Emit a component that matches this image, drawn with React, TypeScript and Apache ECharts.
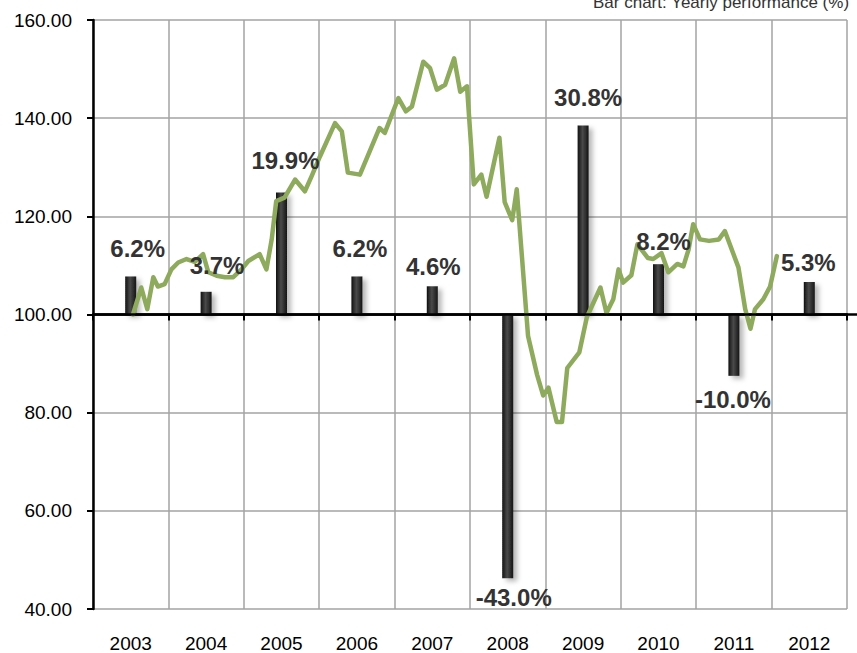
import React, { useEffect, useRef } from "react";
import * as echarts from "echarts";

const years = ["2003", "2004", "2005", "2006", "2007", "2008", "2009", "2010", "2011", "2012"];
const yearlyPct = [6.2, 3.7, 19.9, 6.2, 4.6, -43.0, 30.8, 8.2, -10.0, 5.3];
const yearlyLabels = ["6.2%", "3.7%", "19.9%", "6.2%", "4.6%", "-43.0%", "30.8%", "8.2%", "-10.0%", "5.3%"];

const yMin = 40;
const yMax = 160;
const yStep = 20;

// index line (time in fractional years, value)
const lineX = [
  2003.53, 2003.64, 2003.72, 2003.8, 2003.86, 2003.95, 2004.04, 2004.13, 2004.24, 2004.35,
  2004.46, 2004.53, 2004.64, 2004.75, 2004.86, 2004.97, 2005.06, 2005.21, 2005.3, 2005.37,
  2005.43, 2005.54, 2005.68, 2005.81, 2005.9, 2006.01, 2006.21, 2006.3, 2006.38, 2006.54,
  2006.8, 2006.87, 2007.05, 2007.15, 2007.23, 2007.38, 2007.47, 2007.56, 2007.67, 2007.79,
  2007.87, 2007.96, 2008.05, 2008.15, 2008.22, 2008.39, 2008.46, 2008.56, 2008.62, 2008.77,
  2008.89, 2008.97, 2009.04, 2009.15, 2009.22, 2009.29, 2009.45, 2009.55, 2009.73, 2009.81,
  2009.9, 2009.97, 2010.03, 2010.14, 2010.22, 2010.36, 2010.43, 2010.54, 2010.63, 2010.75,
  2010.83, 2010.9, 2010.96, 2011.05, 2011.17, 2011.3, 2011.38, 2011.56, 2011.65, 2011.72,
  2011.78, 2011.89, 2011.98, 2012.07,
];
const lineY = [
  100.0, 105.5, 101.1, 107.6, 105.7, 106.2, 109.2, 110.6, 111.3, 110.7,
  112.3, 108.6, 107.9, 107.6, 107.6, 109.2, 110.9, 112.3, 109.2, 115.3,
  123.1, 123.8, 127.5, 125.1, 128.2, 132.2, 139.0, 137.3, 128.9, 128.5,
  138.0, 137.0, 144.1, 141.4, 142.4, 151.5, 150.2, 145.8, 146.8, 152.2,
  145.4, 146.5, 126.5, 128.5, 124.0, 136.0, 122.9, 119.2, 125.5, 95.6,
  87.7, 83.5, 85.1, 78.1, 78.1, 89.1, 92.3, 99.5, 105.5, 100.3,
  103.1, 109.2, 106.5, 108.0, 114.3, 111.5, 111.3, 112.5, 108.6, 110.3,
  109.8, 113.3, 118.4, 115.3, 115.0, 115.3, 117.0, 109.6, 101.1, 97.1,
  101.1, 103.1, 105.7, 111.9,
];

// label nudges [dx, dy] in px (styling only)
const labelNudges = [
  [7, -4], [11, -2], [4, -8], [3, -4], [1, 4], [6, -5], [5, -4], [5, 1], [-1, 0], [-1, 5],
];

export default function App() {
  const ref = useRef<HTMLDivElement>(null);

  useEffect(() => {
    if (!ref.current) return;
    const chart = echarts.init(ref.current, null, { renderer: "svg" });
    const font = "'Liberation Sans', Arial, sans-serif";
    const grid = { left: 93, right: 10, top: 20, bottom: 43 };

    const barFill = new echarts.graphic.LinearGradient(0, 0, 1, 0, [
      { offset: 0, color: "#111" },
      { offset: 0.45, color: "#4a4a4a" },
      { offset: 1, color: "#151515" },
    ]);

    chart.setOption({
      animation: false,
      backgroundColor: "#fff",
      title: {
        text: "Bar chart: Yearly performance (%)",
        left: 593,
        top: -6,
        padding: 0,
        textStyle: { fontFamily: font, fontSize: 17, fontWeight: "normal", color: "#333" },
      },
      grid,
      xAxis: [
        {
          type: "category",
          data: years,
          boundaryGap: true,
          axisLine: { show: true, lineStyle: { color: "#000", width: 2.5 } },
          axisTick: { show: true, interval: 0, length: 6, lineStyle: { color: "#000", width: 2 } },
          axisLabel: { interval: 0, margin: 25, fontFamily: font, fontSize: 19, color: "#000" },
          splitLine: { show: true, interval: 0, lineStyle: { color: "#a3a3a3", width: 1.5 } },
        },
        {
          type: "value",
          min: 2003,
          max: 2013,
          show: false,
        },
      ],
      yAxis: [
        {
          type: "value",
          min: yMin,
          max: yMax,
          interval: yStep,
          axisLine: { show: true, lineStyle: { color: "#000", width: 2.5 } },
          axisTick: { show: true, length: 6, lineStyle: { color: "#000", width: 2 } },
          axisLabel: {
            margin: 21,
            fontFamily: font,
            fontSize: 19,
            color: "#000",
            formatter: (v: number) => v.toFixed(2),
          },
          splitLine: { show: true, lineStyle: { color: "#a3a3a3", width: 1.5 } },
        },
        { type: "value", min: -48, max: 48, show: false },
      ],
      series: [
        {
          type: "bar",
          xAxisIndex: 0,
          yAxisIndex: 1,
          data: yearlyPct,
          barWidth: 11,
          z: 2,
          itemStyle: {
            color: barFill,
            shadowColor: "rgba(0,0,0,0.28)",
            shadowBlur: 5,
            shadowOffsetX: 4,
            shadowOffsetY: 3,
          },
        },
        {
          type: "line",
          xAxisIndex: 1,
          yAxisIndex: 0,
          data: lineX.map((x, i) => [x, lineY[i]]),
          showSymbol: false,
          symbol: "none",
          z: 4,
          lineStyle: { color: "#8eaa5c", width: 4.5, join: "round", cap: "round" },
        },
        {
          type: "bar",
          xAxisIndex: 0,
          yAxisIndex: 1,
          barWidth: 11,
          barGap: "-100%",
          z: 6,
          silent: true,
          itemStyle: { color: "rgba(0,0,0,0)" },
          data: yearlyPct.map((v, i) => ({
            value: v,
            label: {
              show: true,
              position: v >= 0 ? "top" : "bottom",
              distance: 12,
              offset: labelNudges[i],
              formatter: () => yearlyLabels[i],
              fontFamily: font,
              fontSize: 24,
              fontWeight: "bold",
              color: "#333",
            },
          })),
        },
      ],
    });

    const y100 = chart.convertToPixel({ yAxisIndex: 0 } as any, 100) as number;
    const xStart = chart.convertToPixel({ xAxisIndex: 1 } as any, 2003) as number;
    chart.setOption({
      graphic: [
        {
          type: "line",
          z: 100,
          shape: { x1: xStart, y1: y100, x2: 857, y2: y100 },
          style: { stroke: "#000", lineWidth: 2.5 },
        },
      ],
    });

    return () => chart.dispose();
  }, []);

  return (
    <div
      ref={ref}
      style={{ position: "fixed", left: 0, top: 0, width: 857, height: 653, background: "#fff" }}
    />
  );
}
